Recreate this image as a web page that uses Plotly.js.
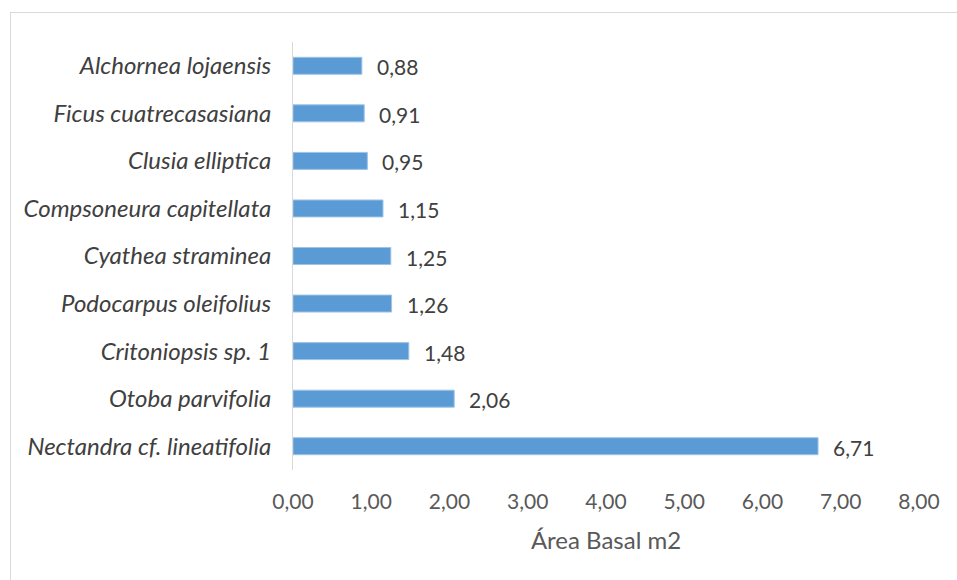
<!DOCTYPE html>
<html>
<head>
<meta charset="utf-8">
<script src="https://cdn.plot.ly/plotly-3.0.1.min.js"></script>
<style>
  html, body { margin: 0; padding: 0; background: #ffffff; }
  #wrap { position: relative; width: 957px; height: 580px; overflow: hidden; }
  #chart { position: absolute; left: 0; top: 0; width: 957px; height: 580px; }
  #frame { position: absolute; left: 10px; top: 12px; width: 1000px; height: 700px;
           border: 1px solid #d9d9d9; pointer-events: none; }
</style>
</head>
<body>
<div id="wrap">
  <div id="chart"></div>
  <div id="frame"></div>
</div>
<script>
// Data (bottom to top as drawn)
const species = [
  "Nectandra cf. lineatifolia",
  "Otoba parvifolia",
  "Critoniopsis sp. 1",
  "Podocarpus oleifolius",
  "Cyathea straminea",
  "Compsoneura capitellata",
  "Clusia elliptica",
  "Ficus cuatrecasasiana",
  "Alchornea lojaensis"
];
const basalArea = [6.71, 2.06, 1.48, 1.26, 1.25, 1.15, 0.95, 0.91, 0.88];
const xTickValues = [0, 1, 2, 3, 4, 5, 6, 7, 8];
const xAxisTitle = "Área Basal m2";

const fmt = v => v.toFixed(2).replace(".", ",");
const FONT = "Lato, 'Open Sans', sans-serif";

const trace = {
  type: "bar",
  orientation: "h",
  y: species,
  x: basalArea,
  marker: { color: "#5B9BD5", line: { color: "#9DC3E6", width: 1 } },
  hoverinfo: "skip"
};

const annotations = species.map((s, i) => ({
  x: basalArea[i], y: s, xref: "x", yref: "y",
  text: fmt(basalArea[i]),
  showarrow: false, xanchor: "left", yanchor: "middle",
  xshift: 13, yshift: -1,
  font: { family: FONT, size: 21, color: "#404040" }
}));

const layout = {
  width: 957, height: 580,
  margin: { l: 293, r: 38, t: 42, b: 110, pad: 0 },
  paper_bgcolor: "rgba(0,0,0,0)",
  plot_bgcolor: "rgba(0,0,0,0)",
  separators: ", ",
  showlegend: false,
  bargap: 0.643,
  xaxis: {
    range: [0, 8],
    tickvals: xTickValues,
    ticktext: xTickValues.map(fmt),
    showgrid: false, zeroline: false, showline: false,
    ticks: "",
    ticklabelstandoff: 17,
    tickfont: { family: FONT, size: 21, color: "#595959" },
    title: { text: xAxisTitle, standoff: 20,
             font: { family: FONT, size: 24, color: "#595959" } },
    fixedrange: true
  },
  yaxis: {
    type: "category",
    range: [-0.5, 8.5],
    showgrid: false, zeroline: false,
    showline: true, linecolor: "#d9d9d9", linewidth: 1,
    ticks: "",
    ticklabelstandoff: 16,
    tickfont: { family: FONT, size: 24, color: "#404040", style: "italic" },
    fixedrange: true
  },
  annotations: annotations
};

Plotly.newPlot("chart", [trace], layout, { displayModeBar: false, staticPlot: true });
</script>
</body>
</html>
